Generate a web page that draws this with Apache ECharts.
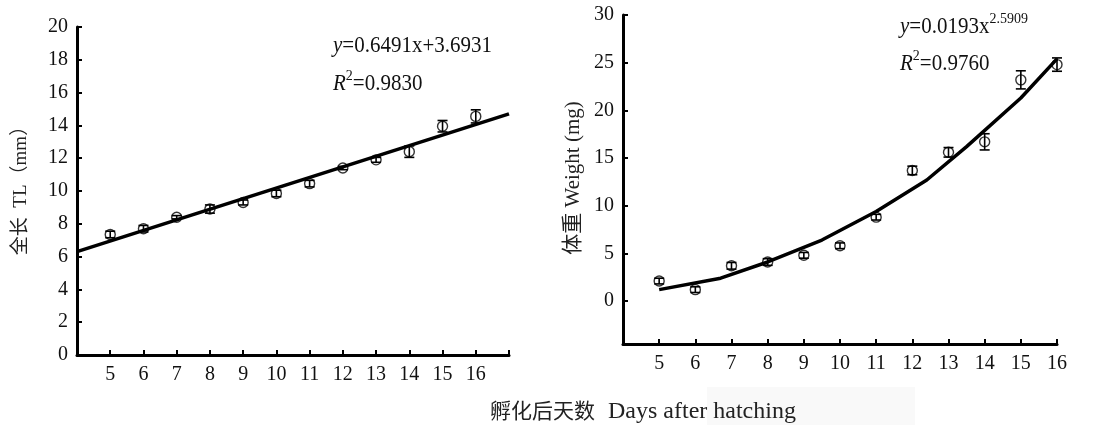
<!DOCTYPE html>
<html>
<head>
<meta charset="utf-8">
<script src="https://cdn.jsdelivr.net/npm/echarts@6/dist/echarts.min.js"></script>
<style>
  html, body { margin: 0; padding: 0; background: #fff; }
  #main { width: 1100px; height: 425px; }
</style>
</head>
<body>
<div id="main"></div>
<script>
// days after hatching
var days = [5, 6, 7, 8, 9, 10, 11, 12, 13, 14, 15, 16];

// total length TL (mm), mean and error
var tlMean = [7.35, 7.7, 8.4, 8.9, 9.3, 9.85, 10.45, 11.4, 11.9, 12.4, 13.95, 14.55];
var tlErr  = [0.2, 0.2, 0.1, 0.25, 0.15, 0.2, 0.2, 0.1, 0.15, 0.35, 0.35, 0.4];
// fitted line, read at both ends of the axis
var tlFit = [[4, 6.3], [17, 14.7]];

// weight (mg), mean and error
var wMean = [2.1, 1.2, 3.7, 4.1, 4.8, 5.8, 8.8, 13.7, 15.6, 16.7, 23.2, 24.8];
var wErr  = [0.3, 0.3, 0.35, 0.35, 0.3, 0.3, 0.3, 0.45, 0.5, 0.85, 0.95, 0.7];
// fitted curve as drawn (polyline)
var wFit = [[5, 1.2], [6.7, 2.4], [8, 4.1], [9.5, 6.4], [11, 9.4], [12.4, 12.7], [13.5, 16.2], [15, 21.3], [16, 25.4]];

// tick labels
var tlYTicks = [0, 2, 4, 6, 8, 10, 12, 14, 16, 18, 20];
var wYTicks = [0, 5, 10, 15, 20, 25, 30];
var xLabels = [5, 6, 7, 8, 9, 10, 11, 12, 13, 14, 15, 16];
var xTicksL = [5, 6, 7, 8, 9, 10, 11, 12, 13, 14, 15, 16, 17];

var serif = '"Liberation Serif", "Times New Roman", "Noto Sans CJK SC", serif';

function errData(mean, err) {
    return days.map(function (d, i) { return [d, mean[i] - err[i], mean[i] + err[i]]; });
}

function errBar(params, api) {
    var x = api.value(0);
    var top = api.coord([x, api.value(2)]);
    var bot = api.coord([x, api.value(1)]);
    var w = 5;
    var st = { stroke: '#000', lineWidth: 1.6 };
    return {
        type: 'group',
        children: [
            { type: 'line', shape: { x1: top[0], y1: top[1], x2: bot[0], y2: bot[1] }, style: st },
            { type: 'line', shape: { x1: top[0] - w, y1: top[1], x2: top[0] + w, y2: top[1] }, style: st },
            { type: 'line', shape: { x1: bot[0] - w, y1: bot[1], x2: bot[0] + w, y2: bot[1] }, style: st }
        ]
    };
}

function xAxisCfg(gridIndex, min, max, ticks) {
    return {
        type: 'value', gridIndex: gridIndex, min: min, max: max, interval: 1,
        splitLine: { show: false },
        axisLine: { onZero: false, lineStyle: { color: '#000', width: 3 } },
        axisTick: { inside: true, length: 5, customValues: ticks, lineStyle: { color: '#000', width: 2 } },
        axisLabel: { customValues: xLabels, margin: 10, color: '#111', fontSize: 20, fontFamily: serif }
    };
}

function yAxisCfg(gridIndex, min, max, ticks) {
    return {
        type: 'value', gridIndex: gridIndex, min: min, max: max,
        splitLine: { show: false },
        axisLine: { onZero: false, lineStyle: { color: '#000', width: 3 } },
        axisTick: { inside: true, length: 5, customValues: ticks, lineStyle: { color: '#000', width: 2 } },
        axisLabel: { customValues: ticks, margin: 9, color: '#111', fontSize: 20, fontFamily: serif }
    };
}

var dot = {
    type: 'scatter', symbol: 'circle', symbolSize: 10, z: 3,
    itemStyle: { color: '#fff', borderColor: '#000', borderWidth: 1.4 }
};
var fitLine = {
    type: 'line', symbol: 'none', z: 5,
    lineStyle: { color: '#000', width: 3.5 }
};

// rich styles for the equations
var eqRich = {
    i: { fontStyle: 'italic', fontSize: 21, fontFamily: serif },
    n: { fontSize: 21, fontFamily: serif },
    s: { fontSize: 14, fontFamily: serif, verticalAlign: 'top', padding: [0, 0, 14, 0] }
};
function eq(x, y, text) {
    return { type: 'text', x: x, y: y, z: 10, scaleY: 1.1,
             style: { text: text, fill: '#111', verticalAlign: 'middle', rich: eqRich } };
}

var chart = echarts.init(document.getElementById('main'));
chart.setOption({
    animation: false,
    backgroundColor: '#fff',
    grid: [
        { left: 77, top: 27, width: 432, height: 328 },
        { left: 623, top: 15, width: 434, height: 329 }
    ],
    xAxis: [
        xAxisCfg(0, 4, 17, xTicksL),
        xAxisCfg(1, 4, 16, xLabels)
    ],
    yAxis: [
        yAxisCfg(0, 0, 20, tlYTicks),
        yAxisCfg(1, -4.5, 30, wYTicks)
    ],
    series: [
        Object.assign({}, dot, { xAxisIndex: 0, yAxisIndex: 0,
            data: days.map(function (d, i) { return [d, tlMean[i]]; }) }),
        { type: 'custom', xAxisIndex: 0, yAxisIndex: 0, z: 4, renderItem: errBar,
          encode: { x: 0, y: [1, 2] }, data: errData(tlMean, tlErr) },
        Object.assign({}, fitLine, { xAxisIndex: 0, yAxisIndex: 0, data: tlFit }),

        Object.assign({}, dot, { xAxisIndex: 1, yAxisIndex: 1,
            data: days.map(function (d, i) { return [d, wMean[i]]; }) }),
        { type: 'custom', xAxisIndex: 1, yAxisIndex: 1, z: 4, renderItem: errBar,
          encode: { x: 0, y: [1, 2] }, data: errData(wMean, wErr) },
        Object.assign({}, fitLine, { xAxisIndex: 1, yAxisIndex: 1, data: wFit })
    ],
    graphic: [
        // faint scan box behind the x title
        { type: 'rect', z: 0, shape: { x: 707, y: 387, width: 208, height: 38 },
          style: { fill: '#f9f9f9' } },
        // axis titles
        { type: 'text', x: 21, y: 186, rotation: Math.PI / 2, z: 10,
          style: { text: '全长  TL（mm）', font: '19px ' + serif, fill: '#222',
                   align: 'center', verticalAlign: 'middle' } },
        { type: 'text', x: 573, y: 178, rotation: Math.PI / 2, z: 10,
          style: { text: '体重 Weight (mg)', font: '21px ' + serif, fill: '#222',
                   align: 'center', verticalAlign: 'middle' } },
        { type: 'text', x: 490, y: 412, z: 10,
          style: { text: '{c|孵化后天数}{e|Days after hatching}', fill: '#222',
                   align: 'left', verticalAlign: 'middle',
                   rich: { c: { fontSize: 21, fontFamily: serif },
                           e: { fontSize: 24, fontFamily: serif, padding: [0, 0, 0, 13] } } } },
        // equations
        eq(333, 46, '{i|y}{n|=0.6491x+3.6931}'),
        eq(333, 84, '{i|R}{s|2}{n|=0.9830}'),
        eq(900, 27, '{i|y}{n|=0.0193x}{s|2.5909}'),
        eq(900, 64, '{i|R}{s|2}{n|=0.9760}')
    ]
});
</script>
</body>
</html>
